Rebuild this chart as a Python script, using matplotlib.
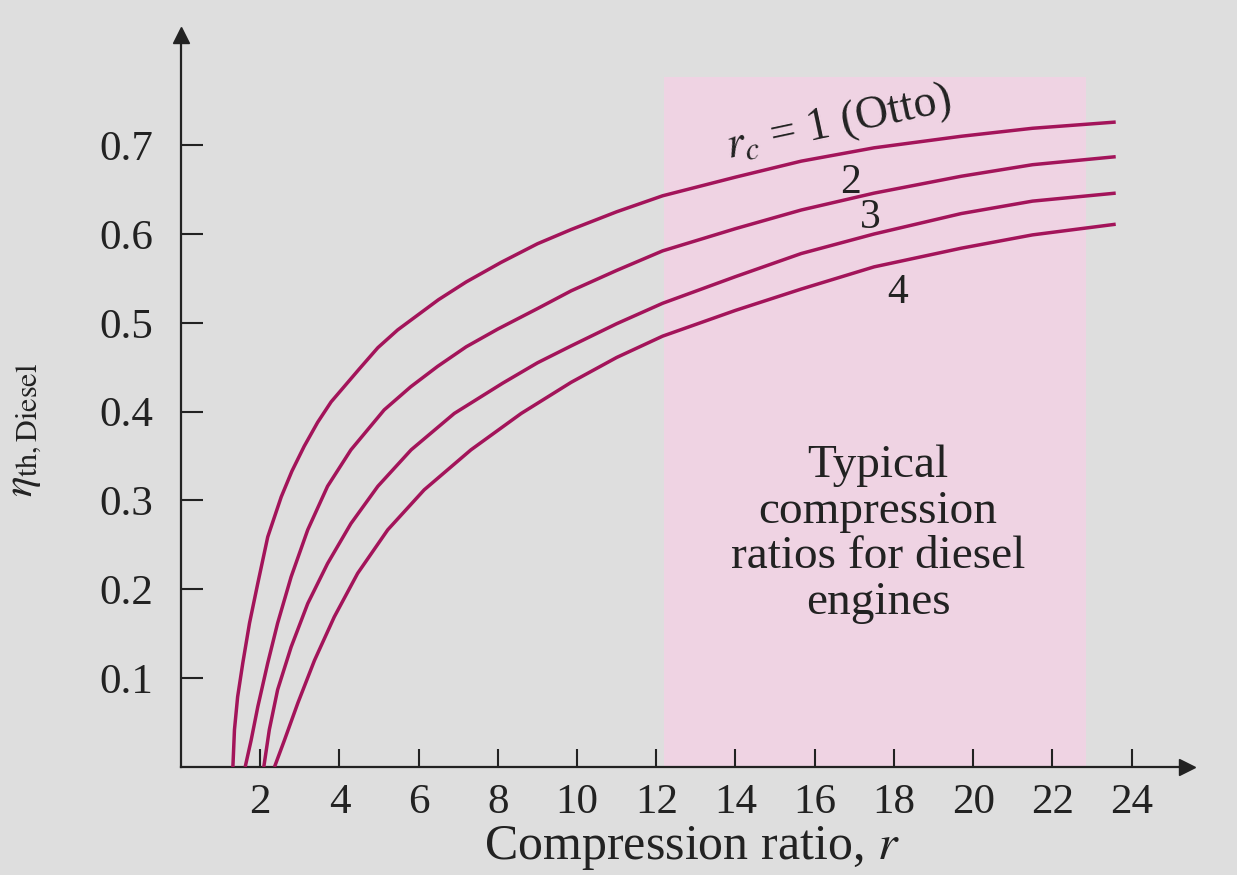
import matplotlib
matplotlib.use("Agg")
import matplotlib.pyplot as plt

# values (compression ratio r, thermal efficiency)
r_1 = [1.31, 1.35, 1.43, 1.56, 1.73, 1.94, 2.19, 2.53, 2.8, 3.11, 3.45, 3.79, 4.5, 4.97, 5.47, 6.5, 7.2, 8.08,
       9.0, 9.85, 11.0, 12.16, 14.0, 15.66, 17.5, 19.7, 21.5, 23.6]
eta_1 = [0.0, 0.042, 0.079, 0.117, 0.162, 0.207, 0.259, 0.304, 0.333, 0.361, 0.388, 0.411, 0.448, 0.472, 0.492,
         0.526, 0.546, 0.568, 0.589, 0.605, 0.625, 0.643, 0.664, 0.682, 0.697, 0.710, 0.719, 0.726]

r_2 = [1.62, 1.77, 1.94, 2.19, 2.44, 2.78, 3.20, 3.70, 4.29, 5.13, 5.8, 6.48, 7.2, 8.0, 9.0, 9.85, 11.0, 12.16,
       14.0, 15.66, 17.5, 19.7, 21.5, 23.6]
eta_2 = [0.0, 0.030, 0.068, 0.117, 0.162, 0.214, 0.267, 0.316, 0.357, 0.402, 0.428, 0.451, 0.473, 0.493, 0.516,
         0.536, 0.559, 0.581, 0.606, 0.627, 0.646, 0.665, 0.678, 0.687]

r_3 = [2.09, 2.23, 2.44, 2.78, 3.20, 3.70, 4.29, 4.97, 5.81, 6.90, 8.12, 9.0, 9.85, 11.0, 12.16, 14.0, 15.66,
       17.5, 19.7, 21.5, 23.6]
eta_3 = [0.0, 0.042, 0.087, 0.135, 0.184, 0.229, 0.274, 0.316, 0.357, 0.398, 0.432, 0.455, 0.474, 0.499, 0.522,
         0.552, 0.578, 0.600, 0.623, 0.637, 0.646]

r_4 = [2.36, 2.61, 2.95, 3.37, 3.87, 4.46, 5.22, 6.14, 7.32, 8.59, 9.85, 11.0, 12.16, 14.0, 15.66, 17.5, 19.7,
       21.5, 23.6]
eta_4 = [0.0, 0.030, 0.072, 0.120, 0.169, 0.218, 0.267, 0.312, 0.357, 0.398, 0.433, 0.461, 0.485, 0.514, 0.538,
         0.563, 0.584, 0.599, 0.611]

curve_labels = ["$r_c$ = 1 (Otto)", "2", "3", "4"]
band = (12.2, 22.85)
band_top = 0.777

x_ticks = list(range(2, 25, 2))
y_ticks = [0.1, 0.2, 0.3, 0.4, 0.5, 0.6, 0.7]

plt.rcParams["font.family"] = ["Liberation Serif", "DejaVu Serif"]
plt.rcParams["mathtext.fontset"] = "stix"

bg = "#dedede"
pink = "#efd3e3"
line_col = "#a3145a"
ink = "#222222"

fig = plt.figure(figsize=(12.37, 8.75), dpi=100, facecolor=bg)
ax = fig.add_axes([181 / 1237, 108 / 875, (1187 - 181) / 1237, (767 - 35) / 875])
ax.set_facecolor(bg)
ax.set_xlim(0, 25.4)
ax.set_ylim(0, 0.824)

ax.axvspan(band[0], band[1], ymax=band_top / 0.824, color=pink, lw=0, zorder=0)

for rr, ee in [(r_1, eta_1), (r_2, eta_2), (r_3, eta_3), (r_4, eta_4)]:
  ax.plot(rr, ee, color=line_col, lw=2.5, solid_joinstyle="round", solid_capstyle="butt", zorder=3)

# axes with arrow heads
for s in ["top", "right"]:
  ax.spines[s].set_visible(False)
for s in ["left", "bottom"]:
  ax.spines[s].set_linewidth(1.6)
  ax.spines[s].set_color(ink)
ax.plot(1, 0, ">", color=ink, ms=11, transform=ax.get_yaxis_transform(), clip_on=False)
ax.plot(0, 1, "^", color=ink, ms=11, transform=ax.get_xaxis_transform(), clip_on=False)

ax.set_xticks(x_ticks)
ax.set_yticks(y_ticks)
ax.set_yticklabels([f"{v:.1f}" for v in y_ticks])
ax.tick_params(axis="x", direction="in", length=13, width=1.5, pad=12, labelsize=31, colors=ink)
ax.tick_params(axis="y", direction="in", length=16, width=1.5, pad=20, labelsize=31, colors=ink)

# curve labels
ax.text(16.6, 0.725, curve_labels[0], fontsize=33, rotation=12, ha="center", va="center", color=ink)
ax.text(16.9, 0.658, curve_labels[1], fontsize=30, ha="center", va="center", color=ink)
ax.text(17.4, 0.618, curve_labels[2], fontsize=30, ha="center", va="center", color=ink)
ax.text(18.1, 0.534, curve_labels[3], fontsize=30, ha="center", va="center", color=ink)

ax.text(17.6, 0.262, "Typical\ncompression\nratios for diesel\nengines", fontsize=34,
        ha="center", va="center", linespacing=1.1, color=ink)

fig.text(692 / 1237, 1 - 848 / 875, "Compression ratio, $r$", fontsize=36, ha="center", va="center", color=ink)
fig.text(25 / 1237, 1 - 430 / 875, r"$\eta_{\mathrm{th,Diesel}}$", fontsize=31, rotation=90,
         ha="center", va="center", color=ink)

fig.savefig("out.png", dpi=100, facecolor=bg)
